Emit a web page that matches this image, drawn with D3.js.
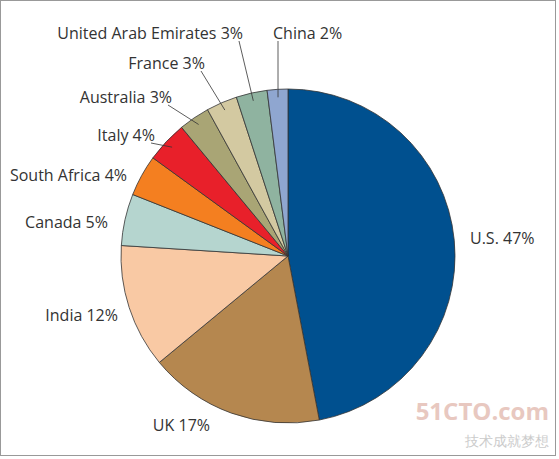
<!DOCTYPE html>
<html>
<head>
<script src="https://d3js.org/d3.v7.min.js"></script>
<style>
body{margin:0;background:#fff;}
text{font-family:"Open Sans",Lato,sans-serif;}
</style>
</head>
<body>
<svg id="chart" width="559" height="459"></svg>
<script>
var countries = ["U.S.","UK","India","Canada","South Africa","Italy","Australia","France","United Arab Emirates","China"];
var shares = [47,17,12,5,4,4,3,3,3,2];
var colors = ["#00508f","#b5874f","#f9c9a4","#b5d5cf","#f47f20","#e8202a","#a9a575","#d3c9a1","#8fb3a0","#8fa6d0"];

// layout: label anchor points and whether a leader line is drawn
var labelAt = [[470,238,"start",0],[210,425,"end",0],[118,315,"end",0],[108,222,"end",0],[127,175,"end",0],
               [155,135,"end",1],[172,97,"end",1],[205,63,"end",1],[243,33,"end",1],[273,33,"start",1]];

var cx = 288, cy = 256, r = 167;
var svg = d3.select("#chart");
svg.append("rect").attr("x",0.5).attr("y",0.5).attr("width",555).attr("height",455)
  .attr("fill","none").attr("stroke","#999");

var pie = d3.pie().sort(null).value(function(d){return d;});
var arc = d3.arc().innerRadius(0).outerRadius(r);
var arcs = pie(shares);
var g = svg.append("g").attr("transform","translate("+cx+","+cy+")");
g.selectAll("path").data(arcs).enter().append("path")
  .attr("d",arc)
  .attr("fill",function(d,i){return colors[i];})
  .attr("stroke","#333").attr("stroke-width",0.8);

arcs.forEach(function(a,i){
  var L = labelAt[i];
  if(L[3]){
    var m = (a.startAngle+a.endAngle)/2;
    var px = cx + Math.sin(m)*(r-8), py = cy - Math.cos(m)*(r-8);
    var lx = L[2]=="end" ? L[0]-4 : L[0]+5, ly = L[1]+8;
    svg.append("line").attr("x1",lx).attr("y1",ly).attr("x2",px).attr("y2",py)
      .attr("stroke","#333").attr("stroke-width",0.8);
  }
  svg.append("text").attr("x",L[0]).attr("y",L[1]).attr("dy","0.35em")
    .attr("text-anchor",L[2]).attr("font-size",16).attr("fill","#333")
    .text(countries[i]+" "+shares[i]+"%");
});

svg.append("text").attr("x",549).attr("y",420).attr("text-anchor","end")
  .attr("font-size",24).attr("font-weight","bold").attr("fill","#e8c8c0").text("51CTO.com");
svg.append("text").attr("x",549).attr("y",446).attr("text-anchor","end")
  .attr("font-size",14).attr("fill","#ccc").attr("font-family","Noto Sans CJK SC").text("技术成就梦想");
</script>
</body>
</html>
